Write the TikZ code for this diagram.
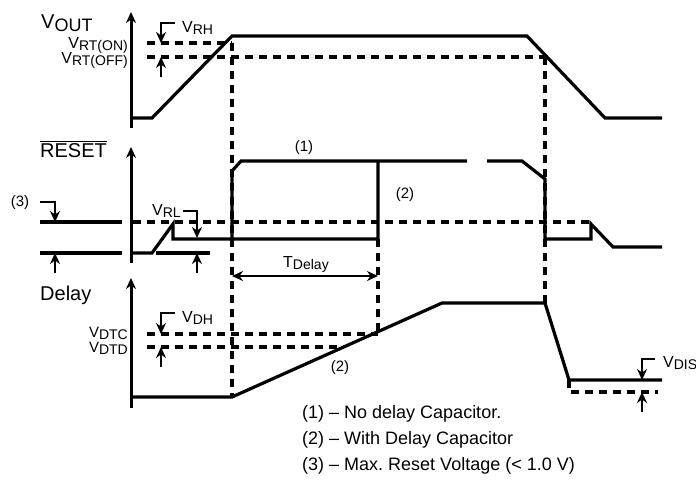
\documentclass[tikz,border=0pt]{standalone}
\usepackage{fontspec}
\setmainfont{Liberation Sans}
\usetikzlibrary{arrows.meta, positioning}
\newcommand{\sublbl}[2]{#1\raisebox{-2.5pt}{\fontsize{14}{14}\selectfont #2}}
\tikzset{
  trace/.style={line width=3.2pt},
  guide/.style={line width=3.2pt, dash pattern=on 8pt off 6pt},
  marker/.style={line width=2.8pt, ->},
  axis/.style={line width=3pt, ->},
  small/.style={font=\fontsize{16}{16}\selectfont, inner sep=0pt},
  title/.style={font=\fontsize{20}{20}\selectfont, inner sep=0pt},
  note/.style={font=\fontsize{15}{15}\selectfont, inner sep=0pt},
  legend/.style={font=\fontsize{18}{18}\selectfont, inner sep=0pt, anchor=west},
}
\frenchspacing

\begin{document}
\begin{tikzpicture}[x=1pt, y=-1pt, >={Stealth[length=11pt, width=10pt]}]
\useasboundingbox (0,0) rectangle (696,480);

% axes
\draw[axis] (131,128) -- (131,12);
\draw[axis] (131,263) -- (131,147);
\draw[axis] (131,408) -- (131,278);

% V_OUT
\node[title, anchor=base west] (vout) at (41,28) {V\raisebox{-3pt}{\fontsize{18}{18}\selectfont OUT}};
\draw[trace] (131,118) -- (152,118) -- (232,36) -- (527,36) -- (605,118) -- (662,118);
\draw[guide] (147,43) -- (232,43);
\draw[guide] (147,57) -- (545,57);
\node[small, anchor=base east] (vrton) at (128,48) {\sublbl{V}{RT(ON)}};
\node[small, anchor=base east] (vrtoff) at (128,63) {\sublbl{V}{RT(OFF)}};
\draw[marker] (175,23) -- (161,23) -- (161,43);
\draw[marker] (161,77) -- (161,57);
\node[small, anchor=base west] (vrh) at (182,32) {\sublbl{V}{RH}};

% time marks
\draw[guide] (232,43) -- (232,397);
\draw[guide] (545,57) -- (545,303);
\draw[guide] (378,239) -- (378,334);

% RESET
\node[title, anchor=base west] (reset) at (40,157) {$\overline{\mbox{RESET}}$};
\draw[trace] (40,222) -- (122,222);
\draw[trace] (40,253) -- (122,253);
\draw[marker] (40,202) -- (55,202) -- (55,222);
\draw[marker] (55,273) -- (55,253);
\node[note] (three) at (20,203) {(3)};
\draw[guide] (133,222) -- (590,222);
\draw[trace] (131,253) -- (152,253) -- (173,224) -- (173,239) -- (378,239) -- (378,161);
\draw[trace] (232,239) -- (232,171) -- (241,161) -- (467,161);
\draw[trace] (487,161) -- (522,161) -- (545,179) -- (545,239) -- (591,239) -- (591,224) -- (613,247) -- (662,247);
\draw[trace] (156,253) -- (210,253);
\draw[marker] (183,211) -- (197,211) -- (197,238);
\draw[marker] (197,273) -- (197,253);
\node[small, anchor=base west] (vrl) at (152,215) {\sublbl{V}{RL}};
\node[note] (one) at (304,148) {(1)};
\node[note] (two) at (405,195) {(2)};
\draw[marker, <->] (232,276) -- (378,276);
\node[small, anchor=base west] (tdelay) at (283,267) {\sublbl{T}{Delay}};

% Delay
\node[title, anchor=base west] (delay) at (40,300) {Delay};
\draw[trace] (131,397) -- (232,397) -- (442,303) -- (545,303) -- (569,380) -- (662,380);
\draw[guide] (147,334) -- (378,334);
\draw[guide] (147,347) -- (344,347);
\node[small, anchor=base east, font=\fontsize{15}{15}\selectfont] (vdtc) at (128,337) {\sublbl{V}{DTC}};
\node[small, anchor=base east, font=\fontsize{15}{15}\selectfont] (vdtd) at (128,352) {\sublbl{V}{DTD}};
\draw[marker] (175,313) -- (161,313) -- (161,334);
\draw[marker] (161,367) -- (161,347);
\node[small, anchor=base west] (vdh) at (182,322) {\sublbl{V}{DH}};
\node[note] (twob) at (340,368) {(2)};
\draw[guide] (569,380) -- (569,392) -- (658,392);
\draw[marker] (655,359) -- (642,359) -- (642,380);
\draw[marker] (642,412) -- (642,392);
\node[small, anchor=base west] (vdis) at (663,367) {\sublbl{V}{DIS}};

% legend
\node[legend] (leg1) at (302,414) {(1) – No delay Capacitor.};
\node[legend] (leg2) at (302,440) {(2) – With Delay Capacitor};
\node[legend] (leg3) at (302,466) {(3) – Max. Reset Voltage (< 1.0 V)};
\end{tikzpicture}
\end{document}
